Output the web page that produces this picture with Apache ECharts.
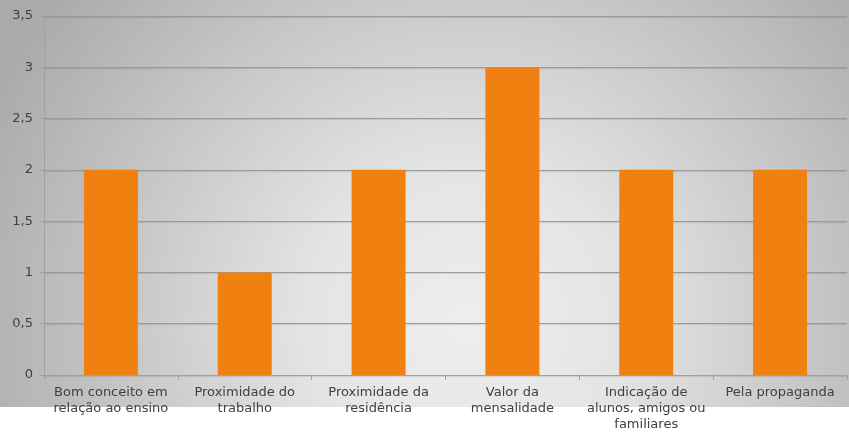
<!DOCTYPE html>
<html>
<head>
<meta charset="utf-8">
<script src="https://cdn.jsdelivr.net/npm/echarts@6/dist/echarts.min.js"></script>
<style>
html,body{margin:0;padding:0;background:#fff;}
#chart{width:849px;height:435px;}
</style>
</head>
<body>
<div id="chart"></div>
<script>
var categories = [
  "Bom conceito em\nrelação ao ensino",
  "Proximidade do\ntrabalho",
  "Proximidade da\nresidência",
  "Valor da\nmensalidade",
  "Indicação de\nalunos, amigos ou\nfamiliares",
  "Pela propaganda"
];
var values = [2, 1, 2, 3, 2, 2];
var yMin = 0, yMax = 3.5, yStep = 0.5;

var chart = echarts.init(document.getElementById('chart'), null, {renderer: 'canvas'});
var font = '"DejaVu Sans", Verdana, sans-serif';
chart.setOption({
  animation: false,
  graphic: [{
    type: 'rect',
    z: -10,
    silent: true,
    shape: {x: 0, y: 0, width: 849, height: 407},
    style: {
      fill: new echarts.graphic.RadialGradient(0.55, 0.8, 1.3, [
        {offset: 0, color: '#eeeeee'},
        {offset: 0.3, color: '#e4e4e4'},
        {offset: 1, color: '#aaaaaa'}
      ])
    }
  }],
  grid: {left: 44, right: 2, top: 16, bottom: 60, containLabel: false},
  xAxis: {
    type: 'category',
    data: categories,
    axisLine: {show: true, lineStyle: {color: '#a0a0a0', width: 1}},
    axisTick: {show: true, length: 5, lineStyle: {color: '#a0a0a0'}},
    axisLabel: {
      interval: 0, margin: 10, color: '#404040',
      fontFamily: font, fontSize: 13, lineHeight: 16
    },
    splitLine: {show: false}
  },
  yAxis: {
    type: 'value',
    min: yMin, max: yMax, interval: yStep,
    axisLine: {show: true, lineStyle: {color: '#a0a0a0', width: 1}},
    axisTick: {show: true, length: 5, lineStyle: {color: '#a0a0a0'}},
    axisLabel: {
      margin: 11, color: '#404040', fontFamily: font, fontSize: 13,
      formatter: function (v) { return String(v).replace('.', ','); }
    },
    splitLine: {show: true, lineStyle: {color: '#9a9a9a', width: 1, shadowColor: 'rgba(0,0,0,0.12)', shadowBlur: 1, shadowOffsetY: 1}}
  },
  series: [{
    type: 'bar',
    data: values,
    barWidth: 54,
    itemStyle: {color: '#f08010'}
  }]
});
</script>
</body>
</html>
